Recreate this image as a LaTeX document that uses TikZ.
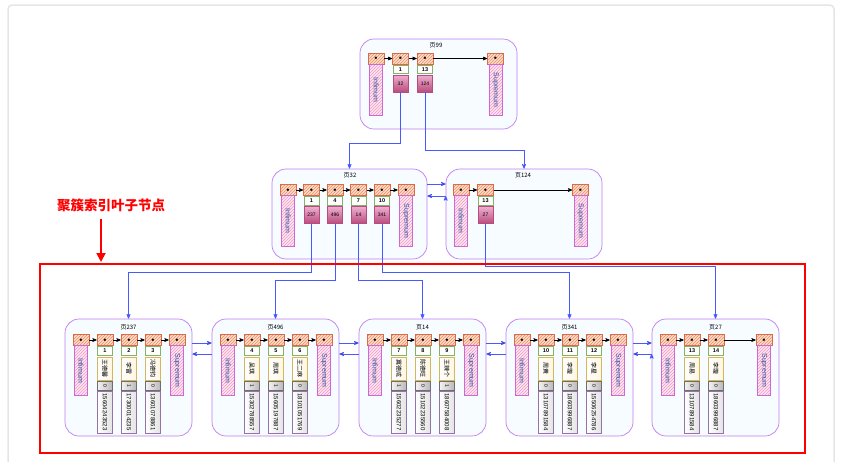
\documentclass[tikz,border=0pt]{standalone}
\usepackage{fontspec}
\setmainfont{Liberation Sans}
\newfontfamily\cjk{Noto Sans CJK SC}
\usepackage{tikz}
\usetikzlibrary{arrows, arrows.meta, patterns, shapes}

\definecolor{pageline}{RGB}{190,125,240}
\definecolor{pagefill}{RGB}{246,252,255}
\definecolor{hdrline}{RGB}{222,105,70}
\definecolor{hdrfill}{RGB}{252,222,200}
\definecolor{hdrhatch}{RGB}{238,140,105}
\definecolor{bndline}{RGB}{205,105,215}
\definecolor{bndfill}{RGB}{255,230,242}
\definecolor{bndhatch}{RGB}{240,155,195}
\definecolor{bndtext}{RGB}{40,80,160}
\definecolor{keyline}{RGB}{130,179,102}
\definecolor{valtop}{RGB}{238,175,208}
\definecolor{valbot}{RGB}{185,75,125}
\definecolor{nameline}{RGB}{214,182,86}
\definecolor{namefill}{RGB}{255,246,225}
\definecolor{sexline}{RGB}{110,110,110}
\definecolor{telline}{RGB}{150,115,166}
\definecolor{linkblue}{RGB}{70,90,255}

\begin{document}
\begin{tikzpicture}[x=1pt, y=-1pt, >=stealth', semithick,
	page/.style={draw=pageline, fill=pagefill, rounded corners=14pt, line width=0.7pt},
	ttl/.style={font=\cjk\fontsize{6}{7}\selectfont},
	hdr/.style={draw=hdrline, preaction={fill=hdrfill}, pattern=north east lines, pattern color=hdrhatch, minimum width=16pt, minimum height=11pt, inner sep=0pt, font=\fontsize{5}{5}\selectfont},
	bnd/.style={draw=bndline, preaction={fill=bndfill}, pattern=north east lines, pattern color=bndhatch, rotate=-90, minimum width=51pt, minimum height=13pt, inner sep=0pt, text=bndtext, font=\fontsize{7}{7}\selectfont},
	key/.style={draw=keyline, fill=white, minimum width=15pt, minimum height=8.5pt, inner sep=0pt, font=\fontsize{5.5}{5.5}\selectfont\bfseries},
	val/.style={draw=valbot, top color=valtop, bottom color=valbot, minimum width=15pt, minimum height=17pt, inner sep=0pt, font=\fontsize{5}{5}\selectfont},
	nm/.style={draw=nameline, left color=white, right color=namefill, rotate=-90, minimum width=23pt, minimum height=15pt, inner sep=0pt, font=\cjk\fontsize{6}{6}\selectfont},
	sx/.style={draw=sexline, left color=gray!10, right color=gray!55, rotate=-90, minimum width=9pt, minimum height=15pt, inner sep=0pt, font=\fontsize{5}{5}\selectfont},
	tel/.style={draw=telline, left color=white, right color=gray!22, rotate=-90, minimum width=42pt, minimum height=15pt, inner sep=0pt, font=\fontsize{6}{6}\selectfont},
	chain/.style={->, black, line width=0.6pt},
	link/.style={->, draw=linkblue, line width=0.7pt}]
	\useasboundingbox (0, 0) rectangle (842, 461);
	\draw[gray!20, line width=1.5pt, rounded corners=4pt] (8, 5) rectangle (834, 480);

	% root page
	\node[page, minimum width=157pt, minimum height=90pt] (p99) at (438.5, 84) {};
	\node[ttl] (t99) at (436, 45) {页99};
	\node[hdr] (i99) at (376, 58.5) {$\bullet$};
	\node[bnd] (ib99) at (376, 90) {Infimum};
	\node[hdr] (h99-1) at (400.5, 58.5) {$\bullet$};
	\node[key] (k99-1) at (400.5, 69.5) {1};
	\node[val] (v99-1) at (400.5, 83.5) {32};
	\node[hdr] (h99-2) at (425, 58.5) {$\bullet$};
	\node[key] (k99-2) at (425, 69.5) {13};
	\node[val] (v99-2) at (425, 83.5) {124};
	\node[hdr] (s99) at (495.5, 58.5) {$\bullet$};
	\node[bnd] (sb99) at (495.5, 90) {Supremum};
	\path[chain] (i99) edge (h99-1) (h99-1) edge (h99-2) (h99-2) edge (s99);

	% second level
	\node[page, minimum width=155pt, minimum height=90pt] (p32) at (349.5, 214) {};
	\node[ttl] (t32) at (350, 175) {页32};
	\node[hdr] (i32) at (288, 190) {$\bullet$};
	\node[bnd] (ib32) at (288, 221) {Infimum};
	\foreach \k/\v [count=\i] in {1/237, 4/496, 7/14, 10/341} {
		\node[hdr] (h32-\i) at ({288+23.5*\i}, 190) {$\bullet$};
		\node[key] (k32-\i) at ({288+23.5*\i}, 201) {\k};
		\node[val] (v32-\i) at ({288+23.5*\i}, 215) {\v};
	}
	\node[hdr] (s32) at (406, 190) {$\bullet$};
	\node[bnd] (sb32) at (406, 221) {Supremum};
	\path[chain] (i32) edge (h32-1) (h32-1) edge (h32-2) (h32-2) edge (h32-3)
		(h32-3) edge (h32-4) (h32-4) edge (s32);

	\node[page, minimum width=156pt, minimum height=90pt] (p124) at (524, 214) {};
	\node[ttl] (t124) at (523, 175) {页124};
	\node[hdr] (i124) at (461, 190) {$\bullet$};
	\node[bnd] (ib124) at (461, 221) {Infimum};
	\node[hdr] (h124-1) at (485.5, 190) {$\bullet$};
	\node[key] (k124-1) at (485.5, 201) {13};
	\node[val] (v124-1) at (485.5, 215) {27};
	\node[hdr] (s124) at (580.5, 190) {$\bullet$};
	\node[bnd] (sb124) at (580.5, 221) {Supremum};
	\path[chain] (i124) edge (h124-1) (h124-1) edge (s124);

	\path[link] ([yshift=30pt]p32.east) edge ([yshift=30pt]p124.west)
		([yshift=18pt]p124.west) edge ([yshift=18pt]p32.east);
	\draw[link] (v99-1.south) -- ++(0, 51) -| (p32.north);
	\draw[link] (v99-2.south) -- ++(0, 58) -| (p124.north);

	% leaf pages
	\node[page, minimum width=127pt, minimum height=117pt] (p237) at (128.5, 377.5) {};
	\node[ttl] (t237) at (128.5, 327) {页237};
	\node[hdr] (i237) at (81, 340) {$\bullet$};
	\node[bnd, minimum width=50pt] (ib237) at (81, 370.5) {Infimum};
	\foreach \k/\nm/\sx/\tel [count=\i] in {1/王德馨/0/15604243523, 2/李雷/1/17300014235, 3/冯德钧/0/13601078861} {
		\node[hdr] (h237-\i) at ({81+24*\i}, 340) {$\bullet$};
		\node[key] (k237-\i) at ({81+24*\i}, 351) {\k};
		\node[nm] (n237-\i) at ({81+24*\i}, 368.5) {\nm};
		\node[sx] (x237-\i) at ({81+24*\i}, 385.5) {\sx};
		\node[tel] (c237-\i) at ({81+24*\i}, 412) {\tel};
	}
	\node[hdr] (s237) at (177, 340) {$\bullet$};
	\node[bnd, minimum width=50pt] (sb237) at (177, 370.5) {Supremum};
	\path[chain] (i237) edge (h237-1) (h237-1) edge (h237-2) (h237-2) edge (h237-3) (h237-3) edge (s237);

	\node[page, minimum width=127pt, minimum height=117pt] (p496) at (275.5, 377.5) {};
	\node[ttl] (t496) at (275.5, 327) {页496};
	\node[hdr] (i496) at (228, 340) {$\bullet$};
	\node[bnd, minimum width=50pt] (ib496) at (228, 370.5) {Infimum};
	\foreach \k/\nm/\sx/\tel [count=\i] in {4/吴琪/1/15302788557, 5/周琪/1/15605197887, 6/王二麻/0/18101051769} {
		\node[hdr] (h496-\i) at ({228+24*\i}, 340) {$\bullet$};
		\node[key] (k496-\i) at ({228+24*\i}, 351) {\k};
		\node[nm] (n496-\i) at ({228+24*\i}, 368.5) {\nm};
		\node[sx] (x496-\i) at ({228+24*\i}, 385.5) {\sx};
		\node[tel] (c496-\i) at ({228+24*\i}, 412) {\tel};
	}
	\node[hdr] (s496) at (324, 340) {$\bullet$};
	\node[bnd, minimum width=50pt] (sb496) at (324, 370.5) {Supremum};
	\path[chain] (i496) edge (h496-1) (h496-1) edge (h496-2) (h496-2) edge (h496-3) (h496-3) edge (s496);

	\node[page, minimum width=127pt, minimum height=117pt] (p14) at (422.5, 377.5) {};
	\node[ttl] (t14) at (422.5, 327) {页14};
	\node[hdr] (i14) at (375, 340) {$\bullet$};
	\node[bnd, minimum width=50pt] (ib14) at (375, 370.5) {Infimum};
	\foreach \k/\nm/\sx/\tel [count=\i] in {7/冀德成/1/15602235277, 8/陈德旺/0/15102235560, 9/王辣个/1/18607584008} {
		\node[hdr] (h14-\i) at ({375+24*\i}, 340) {$\bullet$};
		\node[key] (k14-\i) at ({375+24*\i}, 351) {\k};
		\node[nm] (n14-\i) at ({375+24*\i}, 368.5) {\nm};
		\node[sx] (x14-\i) at ({375+24*\i}, 385.5) {\sx};
		\node[tel] (c14-\i) at ({375+24*\i}, 412) {\tel};
	}
	\node[hdr] (s14) at (471, 340) {$\bullet$};
	\node[bnd, minimum width=50pt] (sb14) at (471, 370.5) {Supremum};
	\path[chain] (i14) edge (h14-1) (h14-1) edge (h14-2) (h14-2) edge (h14-3) (h14-3) edge (s14);

	\node[page, minimum width=127pt, minimum height=117pt] (p341) at (569.5, 377.5) {};
	\node[ttl] (t341) at (569.5, 327) {页341};
	\node[hdr] (i341) at (522, 340) {$\bullet$};
	\node[bnd, minimum width=50pt] (ib341) at (522, 370.5) {Infimum};
	\foreach \k/\nm/\sx/\tel [count=\i] in {10/周黄/0/13107891584, 11/李璇/0/18603996887, 12/李星/0/15506254786} {
		\node[hdr] (h341-\i) at ({522+24*\i}, 340) {$\bullet$};
		\node[key] (k341-\i) at ({522+24*\i}, 351) {\k};
		\node[nm] (n341-\i) at ({522+24*\i}, 368.5) {\nm};
		\node[sx] (x341-\i) at ({522+24*\i}, 385.5) {\sx};
		\node[tel] (c341-\i) at ({522+24*\i}, 412) {\tel};
	}
	\node[hdr] (s341) at (618, 340) {$\bullet$};
	\node[bnd, minimum width=50pt] (sb341) at (618, 370.5) {Supremum};
	\path[chain] (i341) edge (h341-1) (h341-1) edge (h341-2) (h341-2) edge (h341-3) (h341-3) edge (s341);

	\node[page, minimum width=127pt, minimum height=117pt] (p27) at (715.5, 377.5) {};
	\node[ttl] (t27) at (715.5, 327) {页27};
	\node[hdr] (i27) at (668, 340) {$\bullet$};
	\node[bnd, minimum width=50pt] (ib27) at (668, 370.5) {Infimum};
	\foreach \k/\nm/\sx/\tel [count=\i] in {13/周易/0/13107891584, 14/李璇/0/18603996887} {
		\node[hdr] (h27-\i) at ({668+24*\i}, 340) {$\bullet$};
		\node[key] (k27-\i) at ({668+24*\i}, 351) {\k};
		\node[nm] (n27-\i) at ({668+24*\i}, 368.5) {\nm};
		\node[sx] (x27-\i) at ({668+24*\i}, 385.5) {\sx};
		\node[tel] (c27-\i) at ({668+24*\i}, 412) {\tel};
	}
	\node[hdr] (s27) at (764, 340) {$\bullet$};
	\node[bnd, minimum width=50pt] (sb27) at (764, 370.5) {Supremum};
	\path[chain] (i27) edge (h27-1) (h27-1) edge (h27-2) (h27-2) edge (s27);

	% leaf list links
	\path[link] ([yshift=34.5pt]p237.east) edge ([yshift=34.5pt]p496.west)
		([yshift=23.5pt]p496.west) edge ([yshift=23.5pt]p237.east)
		([yshift=34.5pt]p496.east) edge ([yshift=34.5pt]p14.west)
		([yshift=23.5pt]p14.west) edge ([yshift=23.5pt]p496.east)
		([yshift=34.5pt]p14.east) edge ([yshift=34.5pt]p341.west)
		([yshift=23.5pt]p341.west) edge ([yshift=23.5pt]p14.east)
		([yshift=34.5pt]p341.east) edge ([yshift=34.5pt]p27.west)
		([yshift=23.5pt]p27.west) edge ([yshift=23.5pt]p341.east);

	\draw[link] (v32-1.south) -- ++(0, 48.5) -| (p237.north);
	\draw[link] (v32-2.south) -- ++(0, 56.5) -| (p496.north);
	\draw[link] (v32-3.south) -- ++(0, 56.5) -| (p14.north);
	\draw[link] (v32-4.south) -- ++(0, 48.5) -| (p341.north);
	\draw[link] (v124-1.south) -- ++(0, 42.5) -| (p27.north);

	% leaf frame
	\node[draw=red, line width=1.5pt, minimum width=765pt, minimum height=189pt] (leaves) at (422.5, 358.5) {};
	\node[text=red, font=\cjk\fontsize{13.5}{14}\selectfont\bfseries] (lbl) at (111, 205) {聚簇索引叶子节点};
	\coordinate (tip) at (101, 262);
	\draw[red, line width=1.8pt, -{Triangle[width=9pt, length=9pt]}, shorten <=4pt] (lbl.south -| tip) -- (tip);
\end{tikzpicture}
\end{document}
